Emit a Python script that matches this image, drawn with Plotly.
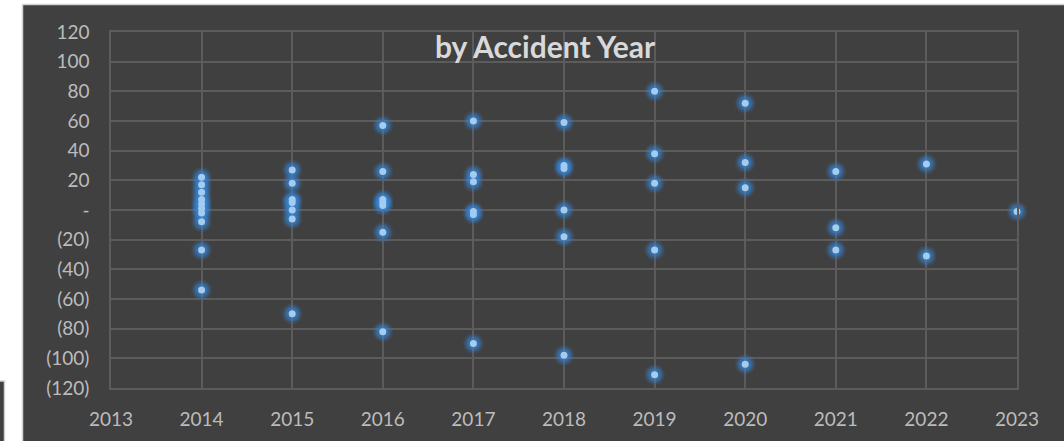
import plotly.graph_objects as go

# Variance by accident year (one entry per point)
accident_years = (
    [2014] * 10 + [2015] * 7 + [2016] * 7 + [2017] * 6 + [2018] * 6
    + [2019] * 5 + [2020] * 4 + [2021] * 3 + [2022] * 2 + [2023] * 1
)
variances = [
    22, 17, 12, 7, 4, 1, -2, -8, -27, -54,      # 2014
    27, 18, 7, 5, 0, -6, -70,                    # 2015
    57, 26, 7, 5, 3, -15, -82,                   # 2016
    60, 24, 19, -1, -3, -90,                     # 2017
    59, 30, 28, 0, -18, -98,                     # 2018
    80, 38, 18, -27, -111,                       # 2019
    72, 32, 15, -104,                            # 2020
    26, -12, -27,                                # 2021
    31, -31,                                     # 2022
    -1,                                          # 2023
]

x_ticks = [2013, 2014, 2015, 2016, 2017, 2018, 2019, 2020, 2021, 2022, 2023]
y_ticks = [120, 100, 80, 60, 40, 20, 0, -20, -40, -60, -80, -100, -120]
y_tick_text = ["120", "100", "80", "60", "40", "20", "-", "(20)", "(40)",
               "(60)", "(80)", "(100)", "(120)"]

W, H = 1064, 441
L, R, T, B = 111, 47, 32, 53
BG = "#404040"
GRID = "#5c5c5c"
FONT = "Lato"

fig = go.Figure()

# soft glow around each point: stacked translucent halos
for size, alpha in [(21, 0.12), (18, 0.18), (15, 0.26), (12, 0.36)]:
    fig.add_trace(go.Scatter(
        x=accident_years, y=variances, mode="markers",
        marker=dict(size=size, color=f"rgba(55,135,215,{alpha})", line=dict(width=0)),
        hoverinfo="skip", showlegend=False, cliponaxis=False,
    ))
fig.add_trace(go.Scatter(
    x=accident_years, y=variances, mode="markers",
    marker=dict(size=7, color="#a4cbf0", line=dict(width=0)),
    showlegend=False, cliponaxis=False,
))

def px_x(p):
    return (p - L) / (W - L - R)

def px_y(p):
    return (H - B - p) / (H - T - B)

shapes = [
    # white surround at left and top
    dict(type="rect", xref="paper", yref="paper", x0=px_x(0), x1=px_x(22.5),
         y0=px_y(H), y1=px_y(0), fillcolor="white", line=dict(width=0), layer="below"),
    dict(type="rect", xref="paper", yref="paper", x0=px_x(0), x1=px_x(W),
         y0=px_y(4.5), y1=px_y(0), fillcolor="white", line=dict(width=0), layer="below"),
    # chart border
    dict(type="line", xref="paper", yref="paper", x0=px_x(22.5), x1=px_x(22.5),
         y0=px_y(H), y1=px_y(4.5), line=dict(color="#d4d4d4", width=1.5), layer="below"),
    dict(type="line", xref="paper", yref="paper", x0=px_x(22.5), x1=px_x(W),
         y0=px_y(4.5), y1=px_y(4.5), line=dict(color="#d4d4d4", width=1.5), layer="below"),
    # small neighbouring box at the bottom left
    dict(type="rect", xref="paper", yref="paper", x0=px_x(-2), x1=px_x(4.5),
         y0=px_y(H + 2), y1=px_y(381), fillcolor=BG,
         line=dict(color="#d4d4d4", width=1.5), layer="below"),
]

fig.update_layout(
    width=W, height=H,
    margin=dict(l=L, r=R, t=T, b=B),
    paper_bgcolor=BG, plot_bgcolor=BG,
    shapes=shapes,
    annotations=[dict(
        text="<b>by Accident Year</b>", xref="paper", yref="paper",
        x=px_x(545), y=px_y(46), xanchor="center", yanchor="middle",
        showarrow=False, font=dict(family=FONT, size=30, color="#d9d9d9"),
    )],
    xaxis=dict(
        range=[2013, 2023], tickvals=x_ticks, ticktext=[str(v) for v in x_ticks],
        showgrid=True, gridcolor=GRID, gridwidth=1.5, zeroline=False,
        showline=True, mirror=True, linecolor=GRID, linewidth=1.5,
        ticks="", ticklabelstandoff=13,
        tickfont=dict(family=FONT, size=19, color="#bcbcbc"),
    ),
    yaxis=dict(
        range=[-120, 120], tickvals=y_ticks, ticktext=y_tick_text,
        showgrid=True, gridcolor=GRID, gridwidth=1.5,
        zeroline=True, zerolinecolor=GRID, zerolinewidth=1.5,
        showline=True, mirror=True, linecolor=GRID, linewidth=1.5,
        ticks="", ticklabelstandoff=16,
        tickfont=dict(family=FONT, size=19, color="#bcbcbc"),
    ),
)

fig.write_html("out.html")
